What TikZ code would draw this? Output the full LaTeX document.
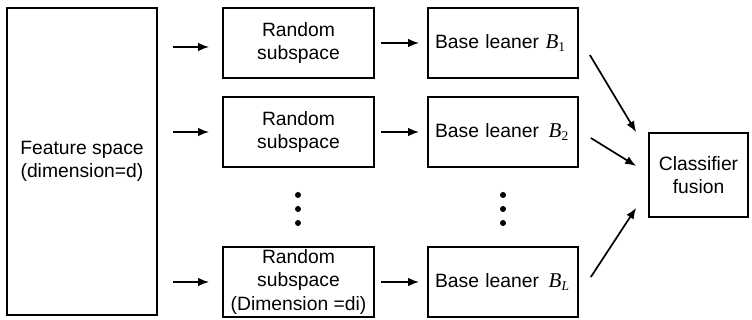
\documentclass[tikz,border=0pt]{standalone}
\usepackage{fontspec}
\setmainfont{Liberation Sans}
\newfontfamily\timesfont{Liberation Serif}
\usetikzlibrary{arrows.meta}
% B with a subscript, set like the learner symbols
\newcommand{\learner}[1]{{\timesfont\itshape\fontsize{21}{21}\selectfont B}\textsubscript{\timesfont #1}}
\begin{document}
\begin{tikzpicture}[x=1pt,y=1pt,font=\fontsize{19.3}{23.5}\selectfont,
    box/.style={draw,line width=1.7pt,align=center,inner sep=1pt},
    arr/.style={-{Latex[length=11pt,width=8.5pt]},line width=1.7pt}]
  \useasboundingbox (0,0) rectangle (752,320);

  \node[box,minimum width=150,minimum height=307] (feat) at (82,158.5)
    {Feature space\\(dimension=d)};

  % Random subspaces
  \node[box,minimum width=151,minimum height=70] (rsa) at (298.5,277) {Random\\subspace};
  \node[box,minimum width=151,minimum height=70] (rsb) at (298.5,188) {Random\\subspace};
  \node[box,minimum width=151,minimum height=70] (rsl) at (298.5,38)
    {Random\\subspace\\(Dimension =di)};

  % Base learners
  \node[box,minimum width=150,minimum height=70,text width=136,align=left] (bla) at (503,277)
    {Base leaner \learner{1}};
  \node[box,minimum width=150,minimum height=70,text width=136,align=left] (blb) at (503,188)
    {Base leaner \,\learner{2}};
  \node[box,minimum width=150,minimum height=70,text width=136,align=left] (bll) at (503,38)
    {Base leaner \,\learner{\itshape L}};

  \node[box,minimum width=99,minimum height=84] (fus) at (698.5,145) {Classifier\\fusion};

  % dots between the rows
  \foreach \x in {298,503}
    \foreach \y in {125,111,97}
      \fill (\x,\y) circle (3);

  % feature space to subspaces
  \draw[arr,shorten <=15pt,shorten >=13pt] ([yshift=-4]feat.east |- rsa.west) -- ([yshift=-4]rsa.west);
  \draw[arr,shorten <=15pt,shorten >=13pt] (feat.east |- rsb.west) -- (rsb.west);
  \draw[arr,shorten <=15pt,shorten >=13pt] (feat.east |- rsl.west) -- (rsl.west);

  % subspaces to learners
  \draw[arr,shorten <=6pt,shorten >=8pt] (rsa.east) -- (bla.west);
  \draw[arr,shorten <=6pt,shorten >=8pt] (rsb.east) -- (blb.west);
  \draw[arr,shorten <=6pt,shorten >=8pt] (rsl.east) -- (bll.west);

  % learners to fusion
  \draw[arr] ([shift={(11,-12)}]bla.east) -- ([xshift=-12]fus.north west);
  \draw[arr] ([shift={(12,-6)}]blb.east) -- ([shift={(-12,9)}]fus.west);
  \draw[arr] ([shift={(12,5)}]bll.east) -- ([shift={(-12,10)}]fus.south west);
\end{tikzpicture}
\end{document}
